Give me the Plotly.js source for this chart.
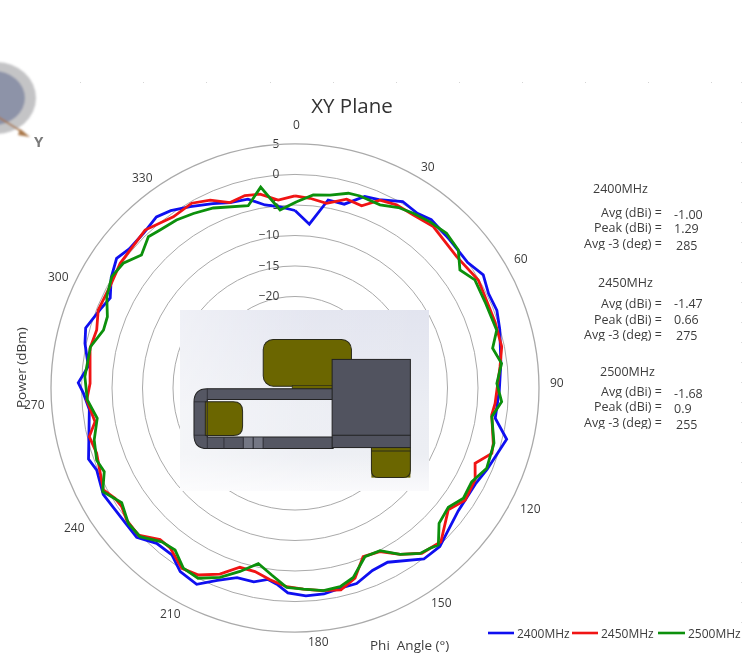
<!DOCTYPE html>
<html>
<head>
<meta charset="utf-8">
<script src="https://cdn.plot.ly/plotly-3.0.1.min.js"></script>
<style>html,body{margin:0;padding:0;background:#fff}#chart{width:754px;height:654px;filter:blur(0.35px)}</style>
</head>
<body>
<div id="chart"></div>
<script>
const seriesNames = ['2400MHz', '2450MHz', '2500MHz'];
const theta2400 = [0,5,10,15,20,24,30,35,39,46,54,59,64,69,74,83,90.5,98.6,103.6,113,118,127,137.6,143,152,157,162.5,167,172,177,182,185,188,192,197,202,206.6,212,216.4,221.7,226.7,231,241,247.5,251,264,268.6,271.4,276,282,286,292,296,301,306,310,315.6,321,325,330,336,340.7,346,350.7,355.3];
const power2400 = [-5.9,-8.05,-3.7,-3.8,-1.6,-1.2,0.3,-0.05,0.5,0.13,0,1,0.3,0.45,-0.08,-1,-1.5,-1.8,0.7,-0.8,-1.5,-1.5,0.2,0.1,-2.65,-2.5,-1.4,-1.35,-0.9,-0.87,-1.4,-2.6,-3.3,-2.5,-2.5,-1,1,0.5,-1,-0.9,0.67,0.55,0.95,0.18,0.8,-1.1,-0.3,0.54,-0.93,0.2,0.7,-0.57,-1.3,0.15,1.15,0.47,0.5,1.1,0.5,-0.66,-1.9,-2.8,-3.1,-4.6,-5.2];
const theta2450 = [0,4.5,9.7,15.3,20.1,24.3,29,34.4,40.6,50.9,59.5,64.3,71.7,78.7,84,94.4,97.8,105.6,108.4,112.7,117,123.4,128.5,136.5,142.5,147.7,152.6,158,162.5,167.2,172.5,177.6,182.4,187.4,192.3,197.1,202,207.3,212.1,218,221.7,226.8,231.9,235.6,238.5,242,251.8,256.7,260.4,266.7,271.3,281,286.3,291.6,298.7,305.5,316.5,324.6,330.8,335.7,340.7,345.4,349.8,354.9];
const power2450 = [-3.5,-3.8,-4.3,-2.9,-3.2,-1.2,-0.67,-0.64,-0.16,-0.85,-0.13,-0.44,-0.46,-0.44,-1.2,-2.1,-2.45,-1.25,-1,-3,-1.85,-1.6,-2.9,-0.25,-0.85,-2.75,-4.8,-5.2,-2.3,-1.05,-1.5,-2,-2.4,-3.3,-4.2,-4.25,-2.1,-0.5,-0.1,-1.75,-1.75,0.23,0.07,-0.57,-0.4,0.58,-0.77,-0.35,-1.75,-0.8,-1.4,-0.77,-1.13,-0.3,-0.4,0.2,0.7,-0.57,-0.3,-1.2,-2.8,-2.4,-2.7,-4.06];
const theta2500 = [0.5,5.4,10.3,15.3,18.7,24.9,29.8,34.1,39.1,44.4,49.8,54.4,59,65.6,74,78.6,83.2,88.7,93.8,98.3,105.5,112.7,118,123.2,127.9,133.2,137.6,139.9,142.9,147.7,152.4,157.5,162.9,167.2,172,177.6,182.4,187.1,191.8,196.7,201.6,207,211.8,216.5,220.9,226.2,230.9,236.5,241.7,246.3,250,255.5,261.3,266.7,273.1,281.4,286.8,290.8,295.9,301.3,306,310.9,315.9,319.5,324.8,329.8,335.6,345.6,350.3,355.2];
const power2500 = [-4.46,-3.2,-2.85,-1.9,-1.77,-1.9,-0.9,-0.4,0.1,0.5,0.05,-1.75,-0.6,-0.8,-0.6,-1.95,-0.9,-1.9,-1.05,-2.4,-1.15,-0.93,-2.2,-2,-3.15,-2.6,-0.15,-0.64,-1,-2.75,-4.9,-5.06,-2.5,-1.6,-1.45,-2,-2.3,-4.1,-5.6,-3.6,-1.6,0,-0.25,-1.95,-1.65,0.2,0.2,-0.93,0.8,-0.85,-0.4,-1,-2.2,-0.9,-0.5,-0.8,-2.2,-2.1,-0.7,0.15,-0.2,-1.7,-0.46,-0.93,-1.3,-1.9,-2.6,-4.15,-1.6,-5.7];
const angleTicks = [0,30,60,90,120,150,180,210,240,270,300,330];
const radialTicks = [5,0,-5,-10,-15,-20,-25,-30];

const seriesColors = ['#0f0ff0', '#f01414', '#0c900c'];
const W = 754, H = 654, CX = 295, CY = 388, R = 244;
const close = a => a.concat(a[0]);
const px = x => x / W, py = y => 1 - y / H;

const pairs = [[theta2400, power2400], [theta2450, power2450], [theta2500, power2500]];
const traces = pairs.map((p, i) => ({
  type: 'scatterpolar', mode: 'lines', name: seriesNames[i],
  theta: close(p[0]), r: close(p[1]),
  line: {color: seriesColors[i], width: 2.8}
}));

const TXT = '#3c3c3c';
const note = (text, x, y, anchor, extra) => Object.assign({
  text: String(text), x: px(x), y: py(y), xref: 'paper', yref: 'paper',
  xanchor: anchor || 'center', yanchor: 'middle', showarrow: false, borderpad: 0,
  font: {family: 'Open Sans', size: 12, color: TXT}
}, extra || {});

const anglePos = [[296,124],[428,166],[521,258],[557,382],[530,508],[441,602],[318,641],[170,613],[74,527],[34,404],[58,276],[142,177]];
const annotations = angleTicks.map((t, i) => note(t, anglePos[i][0], anglePos[i][1]));

const statBlocks = [
  {head: '2400MHz', hx: 620, hy: 188, vals: ['-1.00', '1.29', '285'], ly: [212, 227, 243], vy: [214, 228, 245]},
  {head: '2450MHz', hx: 625, hy: 282, vals: ['-1.47', '0.66', '275'], ly: [303, 319, 334], vy: [303, 319, 335]},
  {head: '2500MHz', hx: 627, hy: 371, vals: ['-1.68', '0.9', '255'], ly: [391, 406, 422], vy: [393, 408, 424]}
];
const statLabels = ['Avg (dBi) =', 'Peak (dBi) =', 'Avg -3 (deg) ='];
const statFont = {family: 'Open Sans', size: 12.5, color: TXT};
statBlocks.forEach(b => {
  annotations.push(note(b.head, b.hx, b.hy, 'center', {font: statFont}));
  statLabels.forEach((l, i) => {
    annotations.push(note(l, 662.5, b.ly[i], 'right', {font: statFont, height: 14}));
    annotations.push(note(b.vals[i], i === 2 ? 675 : 673, b.vy[i], 'left', {font: statFont, height: 14}));
  });
});
const bigFont = {family: 'Open Sans', size: 13.5, color: TXT};
annotations.push(note('Power (dBm)', 21, 368, 'center', {textangle: -90, font: bigFont}));
annotations.push(note('Phi&nbsp;&nbsp;Angle (°)', 409, 645, 'center', {font: bigFont}));
annotations.push(note('<b>Y</b>', 39, 141, 'center', {font: {family: 'Open Sans', size: 15, color: '#7a7a7a'}}));

// hand-placed key along the bottom right, sharing the series names and colours
const keyLineX = [[488, 514], [572, 598], [658, 685]];
const keyTextX = [516, 600, 687];
const keyShapes = keyLineX.map((k, i) => ({
  type: 'line', xref: 'paper', yref: 'paper', x0: px(k[0]), x1: px(k[1]), y0: py(633), y1: py(633),
  line: {color: seriesColors[i], width: 2.6}
}));
seriesNames.forEach((n, i) => annotations.push(note(n, keyTextX[i], 633, 'left')));

// decorative picture layer: orientation globe, faint grid dots and the CAD inset
let dots = '';
[80,143,206,270,333,396,459,522,585,648,711].forEach(x => { dots += `<rect x="${x}" y="82" width="1" height="1" fill="#d5d5d5"/>`; });
for (let y = 82; y < 640; y += 20) dots += `<rect x="741" y="${y}" width="1" height="1" fill="#dcdcdc"/>`;
const decoration = `<svg xmlns="http://www.w3.org/2000/svg" width="${W}" height="${H}" viewBox="0 0 ${W} ${H}">
<defs>
<linearGradient id="v" x1="0" y1="0" x2="0" y2="1"><stop offset="0" stop-color="#e2e4ef"/><stop offset=".55" stop-color="#ebedf3"/><stop offset=".8" stop-color="#eceef3"/><stop offset="1" stop-color="#fafafc"/></linearGradient>
<linearGradient id="h" x1="0" y1="0" x2="1" y2="0"><stop offset="0" stop-color="#fff" stop-opacity=".45"/><stop offset=".5" stop-color="#fff" stop-opacity=".1"/><stop offset="1" stop-color="#fff" stop-opacity="0"/></linearGradient>
<filter id="b"><feGaussianBlur stdDeviation=".9"/></filter>
</defs>
${dots}
<g filter="url(#b)">
<ellipse cx="-4" cy="98" rx="40" ry="36" fill="#c4c4c6"/>
<ellipse cx="-6" cy="98" rx="31" ry="27" fill="#8d93a8"/>
<line x1="-2" y1="117" x2="24" y2="133" stroke="#a9774a" stroke-width="1.6"/>
<path d="M20 129 L30 137 L18 135 Z" fill="#a9774a"/>
</g>
<g transform="translate(180,310) scale(.3329,.3339) translate(-30,-30)">
<rect x="30" y="30" width="748" height="542" fill="url(#v)"/>
<rect x="30" y="30" width="748" height="542" fill="url(#h)"/>
<rect x="280" y="118" width="265" height="140" rx="30" fill="#6b6600" stroke="#2a2a1a" stroke-width="3"/>
<rect x="367" y="256" width="125" height="11" fill="#6b6600" stroke="#2a2a1a" stroke-width="2"/>
<path d="M112 266 H490 V298 H112 V410 H490 V445 H112 Q72 445 72 405 V306 Q72 266 112 266 Z" fill="#555763" stroke="#222" stroke-width="3"/>
<path d="M106 305 H190 Q218 305 218 333 V378 Q218 406 190 406 H106 Z" fill="#6b6600" stroke="#2a2a1a" stroke-width="3"/>
<rect x="605" y="442" width="117" height="90" fill="#6b6600"/>
<path d="M605 442 V510 Q605 532 627 532 H700 Q722 532 722 510 V442" fill="#6b6600" stroke="#2a2a1a" stroke-width="3"/>
<line x1="605" y1="452" x2="722" y2="452" stroke="#2a2a1a" stroke-width="3"/>
<rect x="487" y="178" width="235" height="264" fill="#51535f" stroke="#222" stroke-width="3"/>
<line x1="487" y1="405" x2="722" y2="405" stroke="#222" stroke-width="3"/>
<rect x="222" y="412" width="26" height="32" fill="#747784"/>
<rect x="252" y="412" width="26" height="32" fill="#747784"/>
<path d="M112 266 V445 M162 412 V445 M220 412 V445 M250 412 V445 M280 412 V445 M72 305 H110 M72 405 H110" stroke="#2b2b33" stroke-width="2.5" fill="none"/>
</g>
</svg>`;

const layout = {
  width: W, height: H, autosize: false,
  margin: {l: 0, r: 0, t: 0, b: 0, pad: 0, autoexpand: false},
  paper_bgcolor: '#fff',
  font: {family: 'Open Sans', size: 12, color: TXT},
  title: {text: 'XY Plane', x: px(352), y: py(106), xanchor: 'center', yanchor: 'middle', automargin: false, font: {family: 'Open Sans', size: 20.5, color: '#333'}},
  polar: {
    domain: {x: [px(CX - R), px(CX + R)], y: [py(CY + R), py(CY - R)]},
    bgcolor: 'rgba(0,0,0,0)',
    angularaxis: {
      rotation: 90, direction: 'clockwise', tickvals: angleTicks,
      showgrid: false, showticklabels: false, ticks: '', showline: true,
      linecolor: '#aaaaaa', linewidth: 1.3
    },
    radialaxis: {
      range: [-35, 5], tickvals: radialTicks, angle: 90, side: 'counterclockwise', tickangle: 90,
      showline: false, ticks: 'outside', ticklen: 11, tickcolor: 'rgba(0,0,0,0)', showgrid: true, gridcolor: '#aaaaaa', gridwidth: 1.3,
      tickfont: {family: 'Open Sans', size: 12, color: TXT}, layer: 'below traces'
    }
  },
  showlegend: false,
  shapes: keyShapes,
  images: [{
    source: 'data:image/svg+xml;charset=utf-8,' + encodeURIComponent(decoration),
    xref: 'paper', yref: 'paper', x: 0, y: 1, sizex: 1, sizey: 1,
    xanchor: 'left', yanchor: 'top', sizing: 'stretch', layer: 'above'
  }],
  annotations: annotations
};
Plotly.newPlot('chart', traces, layout, {displayModeBar: false});
</script>
</body>
</html>
